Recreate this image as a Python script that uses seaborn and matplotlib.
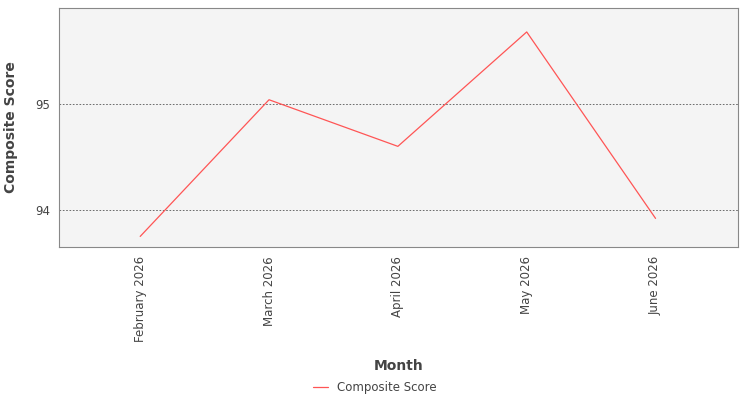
import matplotlib
matplotlib.use("Agg")
import matplotlib.pyplot as plt
import seaborn as sns
import pandas as pd

months = ["February 2026", "March 2026", "April 2026", "May 2026", "June 2026"]
scores = [93.75, 95.04, 94.60, 95.68, 93.92]

sns.set_style("white")
plt.rcParams['font.family'] = ['DejaVu Sans']
df = pd.DataFrame({"Month": months, "Composite Score": scores, "x": range(len(months))})

fig = plt.figure(figsize=(7.5, 4), dpi=100)
ax = fig.add_axes([0.0787, 0.3825, 0.9053, 0.5975])
ax.set_facecolor("#f4f4f4")
sns.lineplot(data=df, x="x", y="Composite Score", ax=ax, color="#ff5555", linewidth=0.9, label="Composite Score")
ax.set_xlim(-0.63, 4.64)
ax.set_ylim(93.65, 95.906)
ax.set_yticks([94, 95])
ax.set_xticks(range(len(months)))
ax.set_xticklabels(months, rotation=90, fontsize=8.5, color="#444444")
ax.tick_params(axis="y", labelsize=8.5, colors="#444444", length=3)
ax.tick_params(axis="x", length=3)
ax.grid(axis="y", color="#555555", linestyle=(0, (2, 2)), linewidth=0.6)
for s in ax.spines.values():
    s.set_color("#888888")
    s.set_linewidth(0.8)
ax.set_xlabel("Month", fontsize=10, fontweight="bold", color="#444444", labelpad=12)
ax.set_ylabel("Composite Score", fontsize=10, fontweight="bold", color="#444444", labelpad=12)
leg = fig.legend(loc="center", bbox_to_anchor=(0.5, 0.032), frameon=False, fontsize=8.5, handlelength=1.2)
ax.get_legend().remove()
for t in leg.get_texts():
    t.set_color("#444444")
fig.savefig("out.png", dpi=100)
